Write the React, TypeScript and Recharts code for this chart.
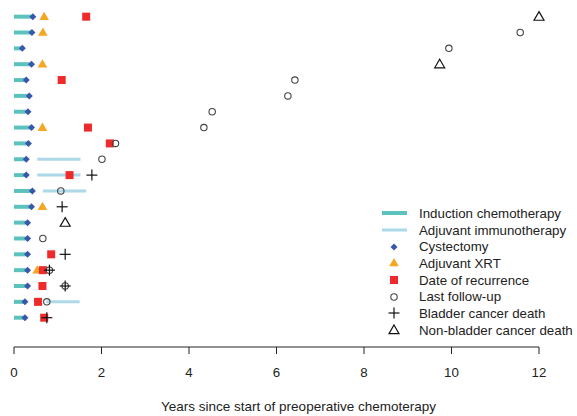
import React from 'react';
import { ComposedChart, Scatter, XAxis, YAxis } from 'recharts';

// Patients listed top to bottom (row 20 at the top, row 1 at the bottom)
const patientIds = [20, 19, 18, 17, 16, 15, 14, 13, 12, 11, 10, 9, 8, 7, 6, 5, 4, 3, 2, 1];

// Years since start of preoperative chemotherapy
const inductionEnd = [0.4, 0.38, 0.16, 0.37, 0.25, 0.32, 0.29, 0.37, 0.3, 0.25, 0.25, 0.39, 0.37, 0.28, 0.28, 0.28, 0.28, 0.28, 0.22, 0.22];
const cystectomy = [0.43, 0.41, 0.19, 0.4, 0.28, 0.35, 0.32, 0.4, 0.33, 0.28, 0.28, 0.42, 0.4, 0.31, 0.31, 0.31, 0.31, 0.31, 0.25, 0.25];
const adjuvantXRT = [0.69, 0.66, null, 0.65, null, null, null, 0.65, null, null, null, null, 0.65, null, null, null, 0.53, null, null, null];
const recurrence = [1.65, null, null, null, 1.09, null, null, 1.69, 2.19, null, 1.27, null, null, null, null, 0.85, 0.66, 0.65, 0.55, 0.69];
const lastFollowUp = [null, 11.57, 9.94, null, 6.42, 6.26, 4.53, 4.34, 2.32, 2.01, null, 1.07, null, null, 0.66, null, 0.81, 1.17, 0.75, null];
const bladderDeath = [null, null, null, null, null, null, null, null, null, null, 1.78, null, 1.1, null, null, 1.17, 0.81, 1.17, null, 0.75];
const nonBladderDeath = [12.0, null, null, 9.73, null, null, null, null, null, null, null, null, null, 1.17, null, null, null, null, null, null];
// [start, end] of adjuvant immunotherapy
const adjuvantImmuno: ([number, number] | null)[] = [
  null, null, null, null, null, null, null, null, null,
  [0.53, 1.52], [0.53, 1.52], [0.66, 1.65],
  null, null, null, null, null, null,
  [0.74, 1.5], null,
];

const xTicks = [0, 2, 4, 6, 8, 10, 12];

const COLORS = {
  induction: '#5cc2bd',
  immuno: '#acd8e8',
  cystectomy: '#3a58aa',
  xrt: '#f6a623',
  recurrence: '#ee2a2a',
  followUp: '#444444',
  death: '#111111',
  text: '#222222',
};

const FONT = '"Liberation Sans", Arial, sans-serif';

type Pt = { x: number; y: number };

const toPoints = (vals: (number | null)[]): Pt[] =>
  vals
    .map((x, i) => (x == null ? null : { x, y: patientIds[i] }))
    .filter((p): p is Pt => p !== null);

const inductionSegments = inductionEnd.map((end, i) => [
  { x: 0, y: patientIds[i] },
  { x: end, y: patientIds[i] },
]);
const immunoSegments = adjuvantImmuno
  .map((r, i) => (r ? [{ x: r[0], y: patientIds[i] }, { x: r[1], y: patientIds[i] }] : null))
  .filter((s): s is Pt[] => s !== null);

// =============================================================================
// Marker shapes
// =============================================================================

const Nothing = () => <g />;

const Diamond = ({ cx, cy }: any) => (
  <polygon
    points={`${cx},${cy - 3.5} ${cx + 3.5},${cy} ${cx},${cy + 3.5} ${cx - 3.5},${cy}`}
    fill={COLORS.cystectomy}
  />
);

const FilledTriangle = ({ cx, cy }: any) => (
  <polygon
    points={`${cx},${cy - 5} ${cx + 4.8},${cy + 3.3} ${cx - 4.8},${cy + 3.3}`}
    fill={COLORS.xrt}
  />
);

const Square = ({ cx, cy }: any) => (
  <rect x={cx - 4} y={cy - 4} width={8} height={8} fill={COLORS.recurrence} />
);

const OpenCircle = ({ cx, cy }: any) => (
  <circle cx={cx} cy={cy} r={3.2} fill="none" stroke={COLORS.followUp} strokeWidth={1.1} />
);

const Plus = ({ cx, cy }: any) => (
  <g stroke={COLORS.death} strokeWidth={1.2}>
    <line x1={cx - 5.5} y1={cy} x2={cx + 5.5} y2={cy} />
    <line x1={cx} y1={cy - 5.5} x2={cx} y2={cy + 5.5} />
  </g>
);

const OpenTriangle = ({ cx, cy }: any) => (
  <polygon
    points={`${cx},${cy - 5} ${cx + 5},${cy + 3.6} ${cx - 5},${cy + 3.6}`}
    fill="none"
    stroke={COLORS.death}
    strokeWidth={1.2}
  />
);

// =============================================================================
// Legend
// =============================================================================

const legendItems = [
  { label: 'Induction chemotherapy', kind: 'line', color: COLORS.induction, width: 4 },
  { label: 'Adjuvant immunotherapy', kind: 'line', color: COLORS.immuno, width: 3 },
  { label: 'Cystectomy', kind: 'shape', Shape: Diamond },
  { label: 'Adjuvant XRT', kind: 'shape', Shape: FilledTriangle },
  { label: 'Date of recurrence', kind: 'shape', Shape: Square },
  { label: 'Last follow-up', kind: 'shape', Shape: OpenCircle },
  { label: 'Bladder cancer death', kind: 'shape', Shape: Plus },
  { label: 'Non-bladder cancer death', kind: 'shape', Shape: OpenTriangle },
];

function SwimmerLegend() {
  return (
    <div style={{ position: 'absolute', left: 379, top: 205, fontFamily: FONT }}>
      {legendItems.map((item: any) => (
        <div key={item.label} style={{ display: 'flex', alignItems: 'center', height: 16.7 }}>
          <svg width={40} height={16} style={{ display: 'block' }}>
            {item.kind === 'line' ? (
              <line x1={3} y1={8} x2={28} y2={8} stroke={item.color} strokeWidth={item.width} />
            ) : (
              <item.Shape cx={15} cy={8} />
            )}
          </svg>
          <span style={{ fontSize: 13.3, color: COLORS.text, whiteSpace: 'nowrap' }}>{item.label}</span>
        </div>
      ))}
    </div>
  );
}

// =============================================================================
// Chart
// =============================================================================

export default function App() {
  return (
    <div style={{ position: 'absolute', left: 0, top: 0, width: 577, height: 416, background: '#fff' }}>
      <ComposedChart width={577} height={416} margin={{ top: 4, right: 38, bottom: 0, left: 14 }}>
        <XAxis
          type="number"
          dataKey="x"
          domain={[0, 12]}
          ticks={xTicks}
          height={69}
          tickSize={7}
          tickMargin={14}
          axisLine={{ stroke: COLORS.text }}
          tickLine={{ stroke: COLORS.text }}
          tick={{ fill: COLORS.text, fontSize: 13.3, fontFamily: FONT }}
          label={{
            value: 'Years since start of preoperative chemoterapy',
            position: 'insideBottom',
            offset: 5,
            dx: 22,
            fill: COLORS.text,
            fontSize: 13.5,
            fontFamily: FONT,
          }}
        />
        <YAxis type="number" dataKey="y" domain={[-0.85, 20.8]} hide />

        {inductionSegments.map((seg, i) => (
          <Scatter
            key={`ind-${i}`}
            data={seg}
            line={{ stroke: COLORS.induction, strokeWidth: 4 }}
            shape={Nothing}
            isAnimationActive={false}
          />
        ))}
        {immunoSegments.map((seg, i) => (
          <Scatter
            key={`imm-${i}`}
            data={seg}
            line={{ stroke: COLORS.immuno, strokeWidth: 3 }}
            shape={Nothing}
            isAnimationActive={false}
          />
        ))}

        <Scatter data={toPoints(cystectomy)} shape={Diamond} isAnimationActive={false} />
        <Scatter data={toPoints(adjuvantXRT)} shape={FilledTriangle} isAnimationActive={false} />
        <Scatter data={toPoints(recurrence)} shape={Square} isAnimationActive={false} />
        <Scatter data={toPoints(lastFollowUp)} shape={OpenCircle} isAnimationActive={false} />
        <Scatter data={toPoints(bladderDeath)} shape={Plus} isAnimationActive={false} />
        <Scatter data={toPoints(nonBladderDeath)} shape={OpenTriangle} isAnimationActive={false} />
      </ComposedChart>
      <SwimmerLegend />
    </div>
  );
}
